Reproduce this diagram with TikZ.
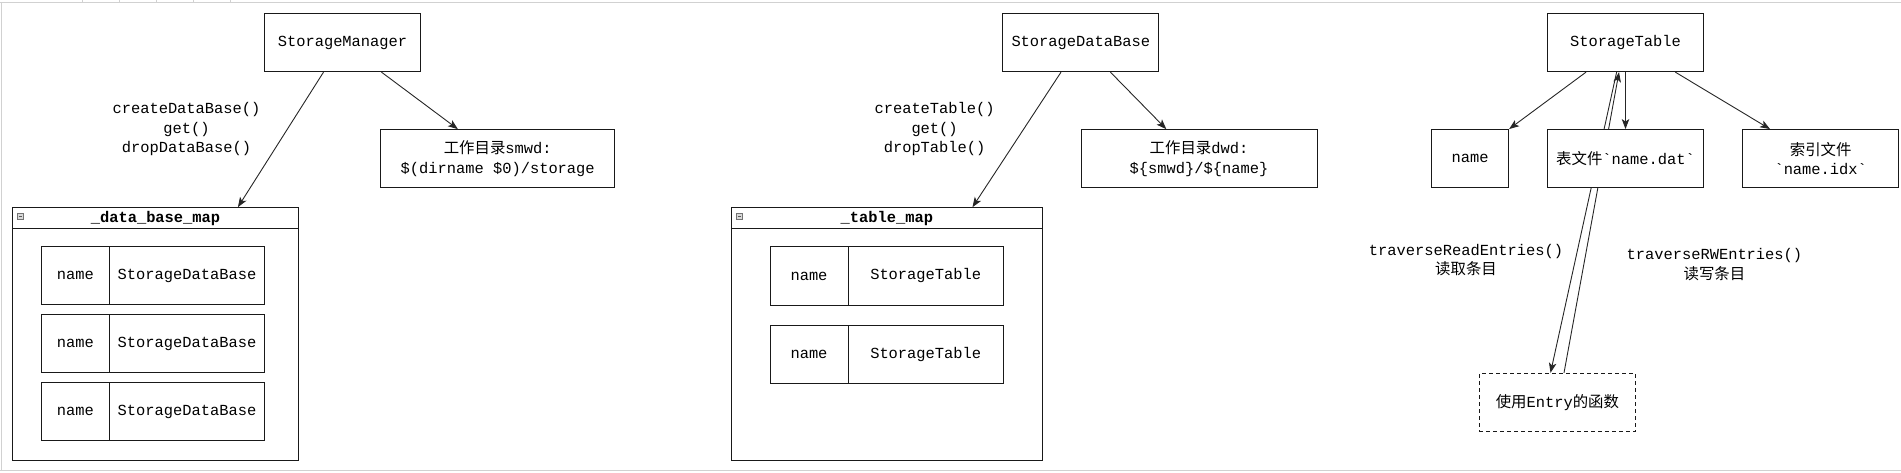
\documentclass[tikz,border=0pt]{standalone}
\usepackage{fontspec}
\setmonofont{Liberation Mono}
\newfontfamily\zhfont{Noto Sans CJK SC}
\usetikzlibrary{arrows.meta}

\begin{document}
\begin{tikzpicture}[x=1pt,y=-1pt,font=\ttfamily\fontsize{15.4}{19.5}\selectfont,
   >={Stealth[length=10pt,width=7.5pt,inset=2.5pt]}]
   \def\boxw{156}
   \def\boxh{58.3}
    \tikzstyle{box}=[draw=black!90,line width=1pt,fill=white,minimum width=\boxw pt,minimum height=\boxh pt,inner sep=0pt,align=center]
    \tikzstyle{dotbox}=[box,dash pattern=on 3.5pt off 3.5pt]
    \tikzstyle{cle}=[box,minimum width=68pt,outer sep=0pt]
    \tikzstyle{valeur}=[box,minimum width=155.4pt,anchor=west,outer sep=0pt]
    \tikzstyle{conteneur}=[draw=black!90,line width=1pt,minimum height=253pt,inner sep=0pt]
    \tikzstyle{annot}=[align=center,inner sep=0pt]
    \tikzstyle{fleche}=[->,line width=0.9pt,black!85]
    \tikzstyle{cadre}=[black!18,line width=1.2pt]
    \tikzstyle{icone}=[fill=black!15,draw=black!55,line width=0.6pt]

\useasboundingbox (0,0) rectangle (1901,472);

% Cadre
\draw[cadre] (0,2.2) -- (1901,2.2);
\draw[cadre] (1.7,2.2) -- (1.7,470.3);
\draw[cadre] (0,470.3) -- (1901,470.3);
\foreach \x in {82.3,119.3,156.3,193.3,230.3} \draw[cadre] (\x,0) -- (\x,2.2);

% StorageManager
\node[box] (mgr) at (342.5,42.5) {StorageManager};
\node[box,minimum width=233.5pt] (smwd) at (497.7,158.8) {{\zhfont 工作目录}smwd:\\\$(dirname \$0)/storage};
\node[annot] (mgr-ops) at (186.5,129.5) {createDataBase()\\get()\\dropDataBase()};

\node[conteneur,minimum width=286.4pt] (dbmap) at (155.5,334.2) {};
\node (dbmap-t) at (155.5,219) {\bfseries\_data\_base\_map};
\foreach \y [count=\i] in {275.7,343.5,411.5} {
   \node[cle] (dbk-\i) at (75.3,\y) {name};
   \node[valeur] (dbv-\i) at (dbk-\i.east) {StorageDataBase};
}

% StorageDataBase
\node[box] (sdb) at (1080.8,42.5) {StorageDataBase};
\node[box,minimum width=236pt] (dwd) at (1199,158.8) {{\zhfont 工作目录}dwd:\\\$\{smwd\}/\$\{name\}};
\node[annot] (sdb-ops) at (934.6,129.5) {createTable()\\get()\\dropTable()};

\node[conteneur,minimum width=310.9pt] (tblmap) at (886.85,334.2) {};
\node (tblmap-t) at (886.85,219) {\bfseries\_table\_map};
\foreach \y [count=\i] in {276,354.2} {
   \node[cle,minimum width=78pt] (tbk-\i) at (809,\y) {name};
   \node[valeur] (tbv-\i) at (tbk-\i.east) {StorageTable};
}

% Entete des conteneurs
\foreach \c in {dbmap,tblmap} {
   \draw[line width=1pt,black!90] ([yshift=-21.6pt]\c.north west) -- ([yshift=-21.6pt]\c.north east);
   \draw[icone] ([xshift=5.5pt,yshift=-6pt]\c.north west) rectangle ++(6,6);
   \draw[black!65,line width=0.8pt] ([xshift=6.7pt,yshift=-9pt]\c.north west) -- ++(3.6,0);
}

% StorageTable
\node[box] (st) at (1625.5,42.5) {StorageTable};
\node[box,minimum width=77pt] (nm) at (1470.1,158.7) {name};
\node[box] (idx) at (1820.7,158.7) {{\zhfont 索引文件}\\`name.idx`};
\node[dotbox] (entry) at (1557.4,402.5) {{\zhfont 使用}Entry{\zhfont 的函数}};

\node[annot] (read-l) at (1466,260.2) {traverseReadEntries()\\{\zhfont 读取条目}};
\node[annot] (rw-l) at (1714.4,264.5) {traverseRWEntries()\\{\zhfont 读写条目}};

% Fleches
\draw[fleche] ([xshift=-19pt]mgr.south) -- ([xshift=82.4pt]dbmap.north);
\draw[fleche] ([xshift=39pt]mgr.south) -- ([xshift=-39.8pt]smwd.north);
\draw[fleche] ([xshift=-19.8pt]sdb.south) -- ([xshift=85.6pt]tblmap.north);
\draw[fleche] ([xshift=29.6pt]sdb.south) -- ([xshift=-32.7pt]dwd.north);
\draw[fleche] ([xshift=-39.5pt]st.south) -- (nm.north east);
\draw[fleche] ([xshift=49.8pt]st.south) -- ([xshift=-50.7pt]idx.north);
\draw[fleche] ([xshift=6.6pt]entry.north) -- ([xshift=-6.5pt]st.south);
\draw[fleche] ([xshift=-8.9pt]st.south) -- ([xshift=-6.9pt]entry.north);

% Fichier de table (par-dessus)
\node[box] (dat) at (1625.5,158.7) {{\zhfont 表文件}`name.dat`};
\draw[fleche] (st) -- (dat);

\end{tikzpicture}
\end{document}
